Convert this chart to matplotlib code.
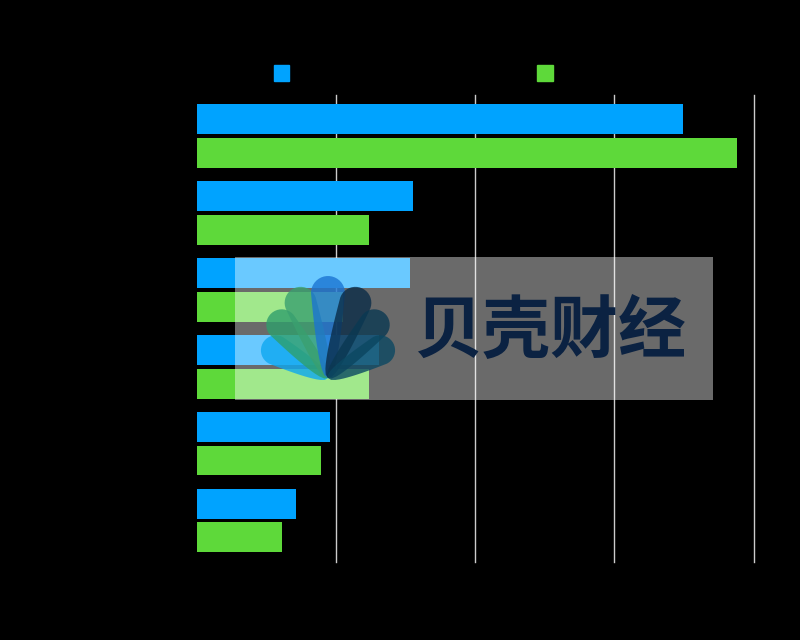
import matplotlib.pyplot as plt
import numpy as np
from matplotlib.patches import Patch, Rectangle, Polygon

plt.rcParams['font.family'] = ['Noto Sans CJK SC', 'DejaVu Sans']

categories = ['类别一', '类别二', '类别三', '类别四', '类别五', '类别六']
series_a = [3.49, 1.55, 1.53, 1.31, 0.96, 0.71]
series_b = [3.88, 1.24, 1.05, 1.24, 0.89, 0.61]
series_names = ['系列一', '系列二']
x_ticks = [0, 1, 2, 3, 4]

blue = '#00a3ff'
green = '#5ed93a'

fig = plt.figure(figsize=(8, 6.4), dpi=100, facecolor='black')
ax = fig.add_axes([0.246, 0.122, 0.697, 0.730])
ax.set_facecolor('black')

y = np.arange(len(categories))
h = 0.39
ax.barh(y - 0.22, series_a, height=h, color=blue, zorder=3)
ax.barh(y + 0.22, series_b, height=h, color=green, zorder=3)

ax.set_ylim(len(categories) - 0.46, -0.54)
ax.set_xlim(0, 4.005)
ax.set_xticks(x_ticks)
ax.set_xticklabels([str(t) for t in x_ticks], color='black')
ax.set_yticks(y)
ax.set_yticklabels(categories, color='black', fontsize=12)
ax.tick_params(length=0)
ax.grid(axis='x', color='#cccccc', linewidth=1, zorder=0)
for gl in ax.get_xgridlines():
    gl.set_clip_on(False)
ax.get_xgridlines()[0].set_visible(False)
for s in ax.spines.values():
    s.set_visible(False)

handles = [Patch(color=blue), Patch(color=green)]
fig.legend(handles, series_names, loc='center', bbox_to_anchor=(0.566, 0.884), ncol=2,
           frameon=False, handlelength=0.75, handleheight=0.75, fontsize=15,
           labelcolor='black', columnspacing=8.1)

# watermark overlay
ov = fig.add_axes([0, 0, 1, 1], facecolor='none')
ov.set_xlim(0, 800)
ov.set_ylim(640, 0)
ov.axis('off')
ov.add_patch(Rectangle((235, 257), 478, 143, facecolor='white', alpha=0.42, edgecolor='none'))


def petal(tip, angle, length, width):
    # teardrop: narrow tip at the bottom, round cap on top
    r = width / 2
    pts = [(0, 0)]
    for t in np.linspace(0.03, 1, 16):
        pts.append((r * t ** 0.45, (length - r) * t))
    for a in np.linspace(0, np.pi, 20):
        pts.append((r * np.cos(a), length - r + r * np.sin(a)))
    for t in np.linspace(1, 0.03, 16):
        pts.append((-r * t ** 0.45, (length - r) * t))
    pts = np.array(pts)
    th = np.deg2rad(angle)
    xs = tip[0] + pts[:, 0] * np.cos(th) + pts[:, 1] * np.sin(th)
    ys = tip[1] + pts[:, 0] * np.sin(th) - pts[:, 1] * np.cos(th)
    return np.column_stack([xs, ys])


petals = [(-62, 74, 30, '#0ea8f0'), (-41, 86, 31, '#2f9f6c'), (-20, 96, 32, '#3aa070'),
          (0, 102, 34, '#1b74d2'), (20, 96, 32, '#0a2c48'), (41, 86, 31, '#0a3852'),
          (62, 74, 30, '#0b4862')]
for ang, ln, w, col in petals:
    ov.add_patch(Polygon(petal((328, 378), ang, ln, w), closed=True, facecolor=col,
                         alpha=0.8, edgecolor='none'))
ov.text(550, 332, '贝壳财经', fontsize=49, fontweight='bold', color='#0b2242',
        ha='center', va='center')

fig.savefig('out.png', dpi=100, facecolor='black')
